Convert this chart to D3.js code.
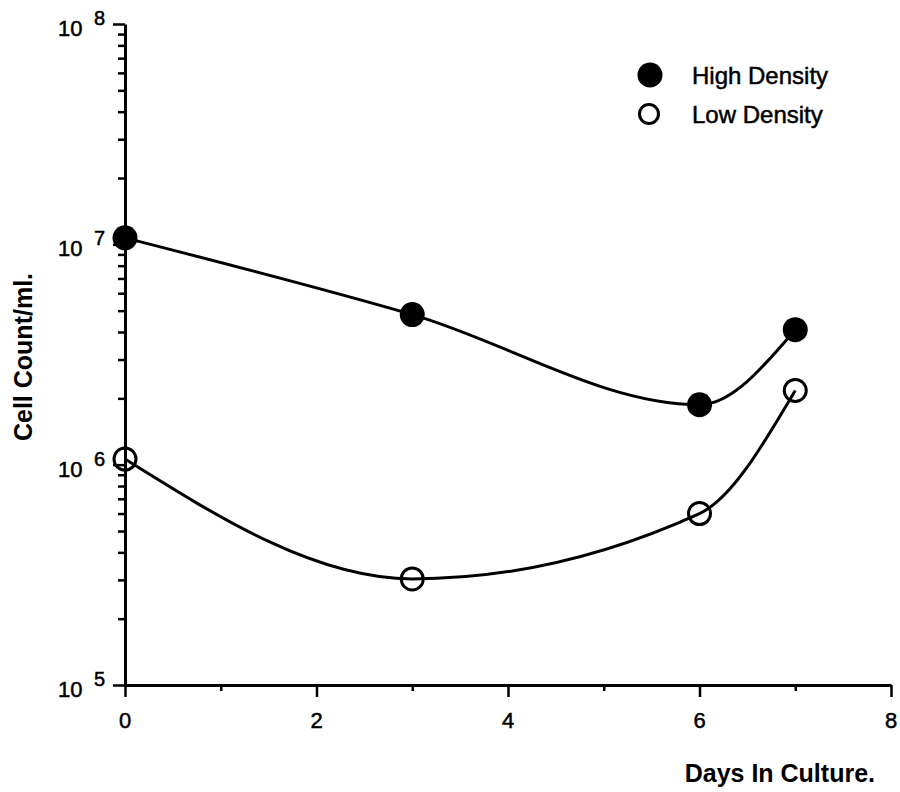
<!DOCTYPE html>
<html>
<head>
<meta charset="utf-8">
<script src="https://cdn.jsdelivr.net/npm/d3@7"></script>
<style>
  html, body { margin: 0; padding: 0; background: #fff; }
  svg { display: block; font-family: "Liberation Sans", Arial, Helvetica, sans-serif; }
  .reg { stroke: #000; stroke-width: 0.5; }
</style>
</head>
<body>
<svg id="chart" width="900" height="792"></svg>
<script>
// Cell count per ml over days in culture, two seeding densities
const days = [0, 3, 6, 7];
const highDensity = [1.07e7, 4.8e6, 1.87e6, 4.1e6];
const lowDensity = [1.06e6, 3.03e5, 6.0e5, 2.17e6];
const xTicks = [0, 2, 4, 6, 8];
const xMinorTicks = [1, 3, 5, 7];
const yDecades = [1e5, 1e6, 1e7, 1e8];
const yExponents = ["5", "6", "7", "8"];
const seriesNames = ["High Density", "Low Density"];

const svg = d3.select("#chart");
const x = d3.scaleLinear().domain([0, 8]).range([125, 891]);
const y = d3.scaleLog().domain([1e5, 1e8]).range([685, 24]);

// minor log ticks 2..9 within each decade
const yMinor = [];
yDecades.slice(0, 3).forEach(d => { for (let k = 2; k <= 9; k++) yMinor.push(d * k); });

const axisStyle = g => {
  g.selectAll("path.domain").attr("stroke", "#000").attr("stroke-width", 3);
  g.selectAll(".tick line").attr("stroke", "#000").attr("stroke-width", 2.5);
  g.selectAll(".tick text").remove();
};

// y axis: major decade ticks, then shorter minor ticks
svg.append("g").attr("transform", `translate(${x(0)},0)`)
  .call(d3.axisLeft(y).tickValues(yDecades).tickSize(12).tickSizeOuter(0).tickFormat(""))
  .call(axisStyle);
svg.append("g").attr("transform", `translate(${x(0)},0)`)
  .call(d3.axisLeft(y).tickValues(yMinor).tickSize(7).tickSizeOuter(0).tickFormat(""))
  .call(axisStyle)
  .call(g => g.select("path.domain").remove());

// x axis
svg.append("g").attr("transform", `translate(0,${y(1e5)})`)
  .call(d3.axisBottom(x).tickValues(xTicks).tickSize(12).tickSizeOuter(0).tickFormat(""))
  .call(axisStyle);
svg.append("g").attr("transform", `translate(0,${y(1e5)})`)
  .call(d3.axisBottom(x).tickValues(xMinorTicks).tickSize(6).tickSizeOuter(0).tickFormat(""))
  .call(axisStyle)
  .call(g => g.select("path.domain").remove());

// y decade labels as 10 with raised exponent
yDecades.forEach((d, i) => {
  const t = svg.append("text").attr("class", "reg").attr("fill", "#000");
  t.append("tspan").attr("x", 58).attr("y", y(d) + 12).attr("font-size", 22).text("10");
  t.append("tspan").attr("x", 94).attr("y", y(d) + 1).attr("font-size", 20).text(yExponents[i]);
});

// x tick labels
svg.append("g").selectAll("text").data(xTicks).join("text")
  .attr("class", "reg")
  .attr("x", d => x(d)).attr("y", 728)
  .attr("text-anchor", "middle").attr("font-size", 22).attr("fill", "#000")
  .text(d => d);

// axis titles
svg.append("text").attr("x", 875).attr("y", 782).attr("text-anchor", "end")
  .attr("font-size", 25).attr("font-weight", "bold").text("Days In Culture.");
svg.append("text").attr("transform", "translate(32,357) rotate(-90)")
  .attr("text-anchor", "middle").attr("font-size", 25).attr("font-weight", "bold")
  .text("Cell Count/ml.");

// smooth curves through the measurements
const line = d3.line().x((d, i) => x(days[i])).y(d => y(d)).curve(d3.curveMonotoneX);
[highDensity, lowDensity].forEach(s => {
  svg.append("path").attr("d", line(s)).attr("fill", "none")
    .attr("stroke", "#000").attr("stroke-width", 3);
});

// markers
svg.append("g").selectAll("circle").data(highDensity).join("circle")
  .attr("cx", (d, i) => x(days[i])).attr("cy", d => y(d)).attr("r", 12.5).attr("fill", "#000");
svg.append("g").selectAll("circle").data(lowDensity).join("circle")
  .attr("cx", (d, i) => x(days[i])).attr("cy", d => y(d)).attr("r", 11)
  .attr("fill", "none").attr("stroke", "#000").attr("stroke-width", 3);

// legend
const legend = svg.append("g");
legend.append("circle").attr("cx", 650).attr("cy", 75).attr("r", 12.5).attr("fill", "#000");
legend.append("circle").attr("cx", 649).attr("cy", 114).attr("r", 9.5)
  .attr("fill", "none").attr("stroke", "#000").attr("stroke-width", 3);
seriesNames.forEach((n, i) => {
  legend.append("text").attr("class", "reg").attr("x", 692).attr("y", 84 + i * 39)
    .attr("font-size", 24).attr("fill", "#000").text(n);
});
</script>
</body>
</html>
